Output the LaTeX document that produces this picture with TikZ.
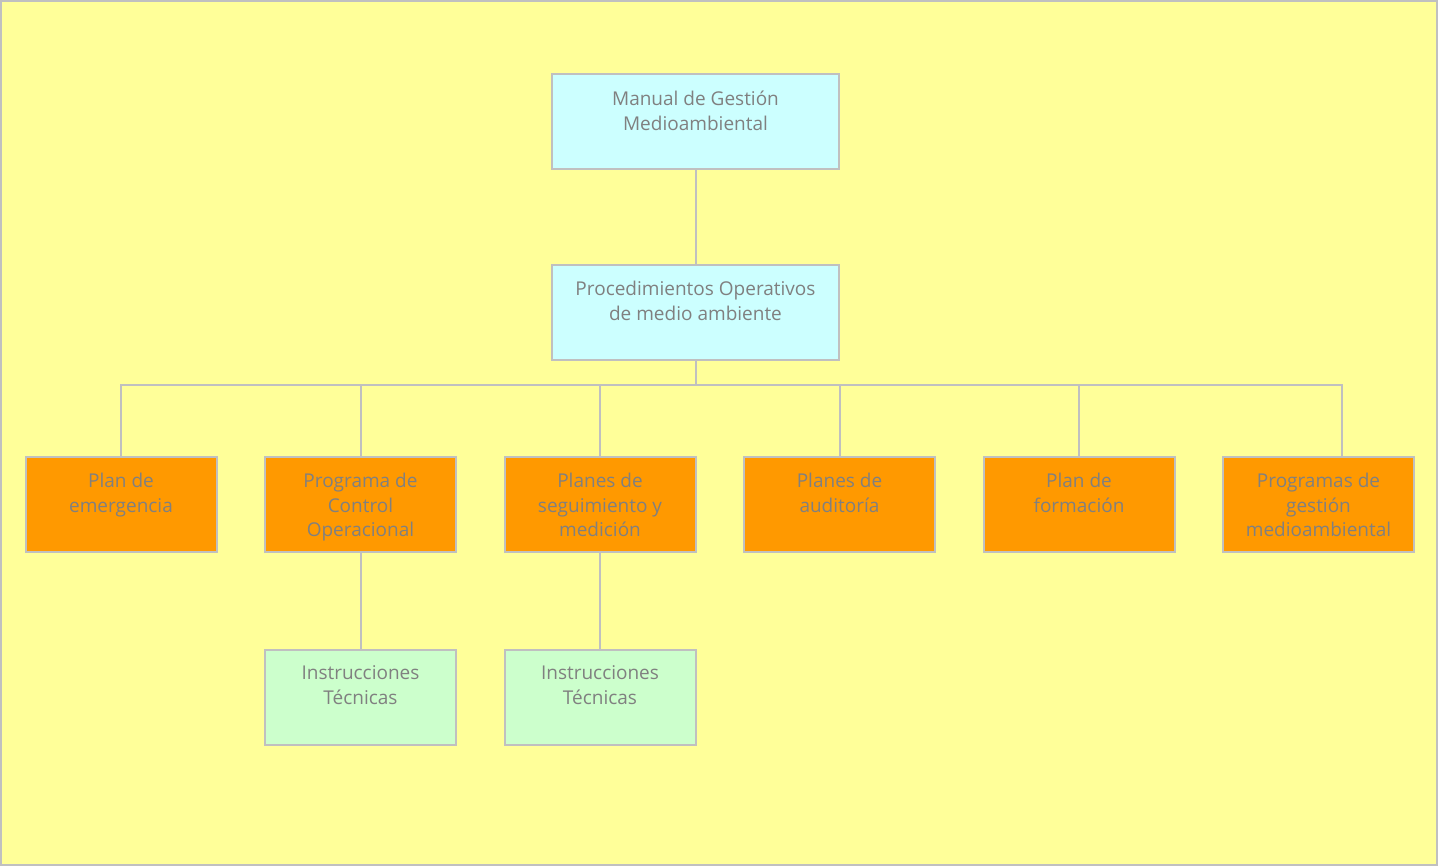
\documentclass[tikz,border=0pt]{standalone}
\usepackage{fontspec}
\setmainfont{Open Sans}
\usetikzlibrary{positioning}
\definecolor{fondo}{HTML}{FFFF99}
\definecolor{borde}{HTML}{C0C0C0}
\definecolor{texto}{HTML}{808080}
\definecolor{cian}{HTML}{CCFFFF}
\definecolor{naranja}{HTML}{FF9900}
\definecolor{verde}{HTML}{CCFFCC}
\tikzset{
  caja/.style={draw=borde, line width=2pt, minimum width=191pt, minimum height=95pt, inner sep=0pt},
  cajaancha/.style={caja, minimum width=287pt},
  rotulo/.style={anchor=north, yshift=-14pt, align=center, text=texto,
    font=\fontsize{19}{24.5}\selectfont},
  linea/.style={draw=borde, line width=2pt}
}
\begin{document}
\begin{tikzpicture}[x=1pt, y=-1pt]
            \useasboundingbox (0,0) rectangle (1438,866);
            \draw [fill=fondo, draw=borde, line width=2pt] (1,1) rectangle (1437,865);

            \node [cajaancha, fill=cian, label={[rotulo]north:Manual de Gestión\\Medioambiental}] (manual) at (695.5, 122) {};
            \node [cajaancha, fill=cian, label={[rotulo]north:Procedimientos Operativos\\de medio ambiente}] (proc) at (695.5, 312.5) {};

            \node [caja, fill=naranja, label={[rotulo]north:Plan de\\emergencia}] (emerg) at (121, 504.5) {};
            \node [caja, fill=naranja, label={[rotulo]north:Programa de\\Control\\Operacional}] (control) at (360.5, 504.5) {};
            \node [caja, fill=naranja, label={[rotulo]north:Planes de\\seguimiento y\\medición}] (segui) at (600, 504.5) {};
            \node [caja, fill=naranja, label={[rotulo]north:Planes de\\auditoría}] (audit) at (839.5, 504.5) {};
            \node [caja, fill=naranja, label={[rotulo]north:Plan de\\formación}] (forma) at (1079, 504.5) {};
            \node [caja, fill=naranja, label={[rotulo]north:Programas de\\gestión\\medioambiental}] (progr) at (1318.5, 504.5) {};

            \node [caja, fill=verde, label={[rotulo]north:Instrucciones\\Técnicas}] (instrA) at (360.5, 697) {};
            \node [caja, fill=verde, label={[rotulo]north:Instrucciones\\Técnicas}] (instrB) at (600, 697) {};

            \coordinate (bus) at (695.5, 385);
            \coordinate (busfin) at (1342, 385);

            \draw [linea] (manual) -- (proc);
            \draw [linea] (proc) -- (bus);
            \foreach \n in {emerg, control, segui, audit, forma}
              \draw [linea] (bus) -| (\n.north);
            \draw [linea] (bus) -- (busfin) -- (busfin |- progr.north);
            \draw [linea] (control) -- (instrA);
            \draw [linea] (segui) -- (instrB);
        \end{tikzpicture}
\end{document}
